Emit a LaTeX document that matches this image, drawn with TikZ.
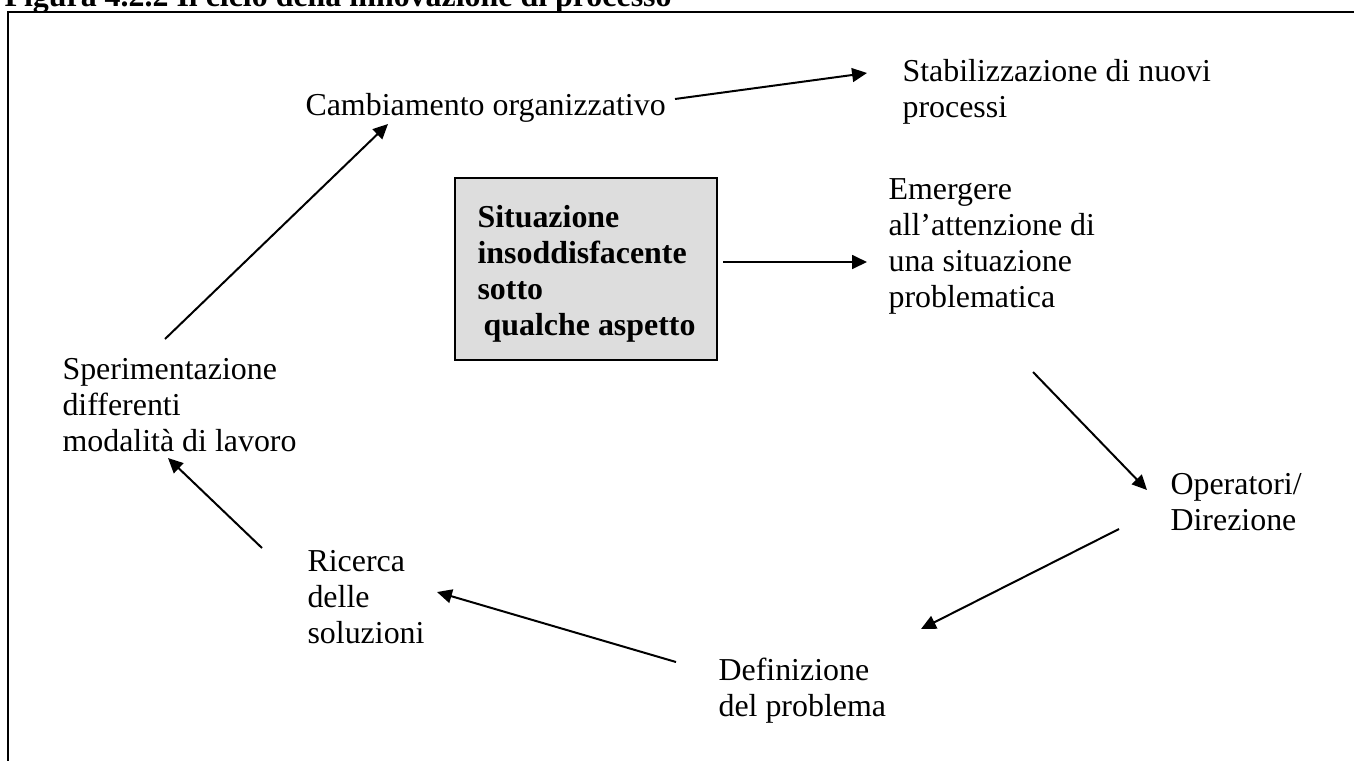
\documentclass[tikz,border=0pt]{standalone}
\usepackage{fontspec}
\setmainfont{Liberation Serif}
\usetikzlibrary{arrows.meta}
\definecolor{grigio}{RGB}{221,221,221}

\begin{document}
\begin{tikzpicture}[x=0.376pt, y=-0.376pt,
    testo/.style={anchor=base west, inner sep=0pt, align=left, font=\fontsize{12}{13.5}\selectfont},
    freccia/.style={-{Triangle[length=5.6pt,width=5.2pt]}, line width=0.75pt}]
        \useasboundingbox (0,0) rectangle (1354,760);
        \clip (0,0) rectangle (1354,760);
        % titolo e cornice (base = ultima riga)
        \node[testo, font=\fontsize{12}{13.5}\selectfont\bfseries] (titolo) at (4,6) {Figura 4.2.2 Il ciclo della innovazione di processo};
        \draw[line width=1pt] (8,12) rectangle (1400,800);
        % riquadro centrale
        \draw[line width=0.5pt, fill=grigio] (455,178) rectangle (717,360);
        \node[testo, font=\fontsize{12}{13.5}\selectfont\bfseries] (situazione) at (477,335) {Situazione\\insoddisfacente\\sotto\\\hspace{2.3pt}qualche aspetto};
        % fasi del ciclo
        \node[testo] (cambio) at (305,115) {Cambiamento organizzativo};
        \node[testo] (stabile) at (902,117) {Stabilizzazione di nuovi\\processi};
        \node[testo] (emergere) at (888,307) {Emergere\\all’attenzione di\\una situazione\\problematica};
        \node[testo] (operatori) at (1170,530) {Operatori/\\Direzione};
        \node[testo] (definizione) at (718,716) {Definizione\\del problema};
        \node[testo] (ricerca) at (307,643) {Ricerca\\delle\\soluzioni};
        \node[testo] (sperimenta) at (62,451) {Sperimentazione\\differenti\\modalità di lavoro};
        % estremi delle frecce
        \coordinate (cambio-out) at (675,99);   \coordinate (stabile-in) at (867,73);
        \coordinate (situazione-out) at (723,262); \coordinate (emergere-in) at (867,262);
        \coordinate (emergere-out) at (1033,372); \coordinate (operatori-in) at (1147,490);
        \coordinate (operatori-out) at (1119,529); \coordinate (definizione-in) at (921,629);
        \coordinate (definizione-out) at (676,662); \coordinate (ricerca-in) at (437,592);
        \coordinate (ricerca-out) at (262,548); \coordinate (sperimenta-in) at (168,458);
        \coordinate (sperimenta-out) at (165,339); \coordinate (cambio-in) at (388,124);
        \draw[freccia] (cambio-out) -- (stabile-in);
        \draw[freccia] (situazione-out) -- (emergere-in);
        \draw[freccia] (emergere-out) -- (operatori-in);
        \draw[freccia] (operatori-out) -- (definizione-in);
        \draw[freccia] (definizione-out) -- (ricerca-in);
        \draw[freccia] (ricerca-out) -- (sperimenta-in);
        \draw[freccia] (sperimenta-out) -- (cambio-in);
\end{tikzpicture}
\end{document}
